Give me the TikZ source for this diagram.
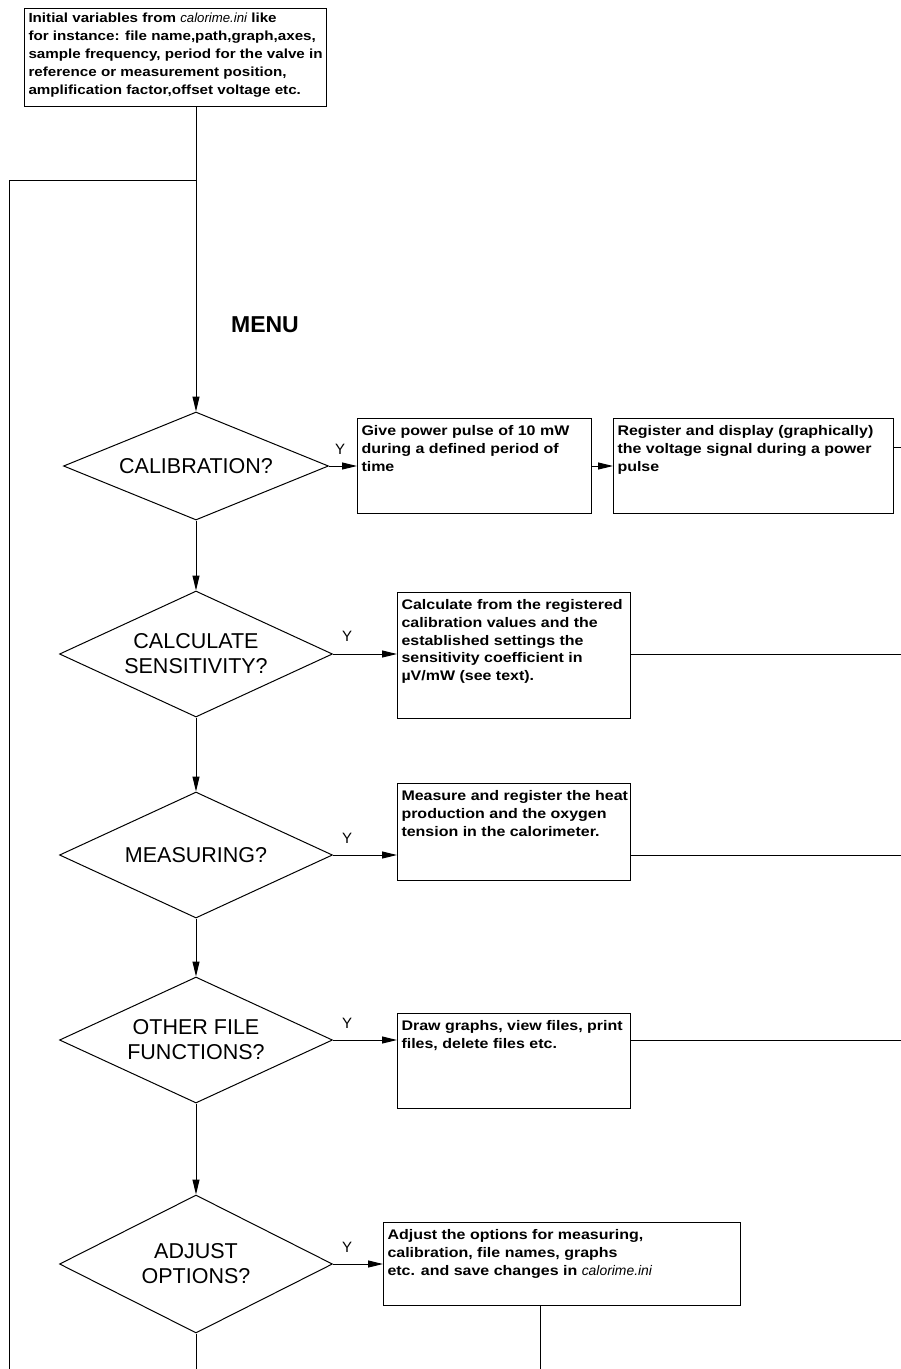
\documentclass[tikz,border=0pt]{standalone}
\usepackage{fontspec}
\setmainfont{Liberation Sans}
\newfontfamily\wboxfont[FakeStretch=1.15]{Liberation Sans}
\usetikzlibrary{shapes.geometric,arrows.meta}
\newcommand{\tbx}[3]{\parbox[t][#2][t]{#1}{\raggedright\hbadness=10000 #3}}
\begin{document}
\begin{tikzpicture}[x=1pt,y=-1pt,
  ln/.style={line width=1pt},
  arr/.style={line width=1pt,-{Triangle[length=15pt,width=7pt]}},
  dia/.style={diamond,draw,line width=1pt,inner sep=0pt,align=center,font=\fontsize{21.5}{25}\selectfont},
  tb/.style={draw,line width=1pt,inner xsep=4pt,inner ysep=7pt,anchor=north west,font=\wboxfont\bfseries\fontsize{13.9}{17.8}\selectfont},
  yl/.style={font=\fontsize{15}{16}\selectfont}]
\useasboundingbox (0,0) rectangle (901,1369);
% top box
\node[draw,line width=1pt,inner xsep=4pt,inner ysep=4pt,anchor=north west,font=\wboxfont\bfseries\fontsize{13.2}{18}\selectfont] (top) at (24,8)
  {\tbx{294pt}{90pt}{\mbox{Initial variables from {\normalfont\itshape calorime.ini} like}\\\mbox{for instance: file name,path,graph,axes,}\\\mbox{sample frequency, period for the valve in}\\\mbox{reference or measurement position,}\\\mbox{amplification factor,offset voltage etc.}}};
\node[font=\bfseries\fontsize{23}{26}\selectfont] (menu) at (265,325) {MENU};
% diamonds
\node[dia,aspect=2.45,minimum width=265pt,minimum height=108pt] (d1) at (196,466) {CALIBRATION?};
\node[dia,aspect=2.17,minimum width=273pt,minimum height=126pt] (d2) at (196,654) {CALCULATE\\SENSITIVITY?};
\node[dia,aspect=2.17,minimum width=273pt,minimum height=126pt] (d3) at (196,855) {MEASURING?};
\node[dia,aspect=2.17,minimum width=273pt,minimum height=126pt] (d4) at (196,1040) {OTHER FILE\\FUNCTIONS?};
\node[dia,aspect=1.98,minimum width=273pt,minimum height=138pt] (d5) at (196,1264) {ADJUST\\OPTIONS?};
% text boxes
\node[tb] (b1) at (357,418) {\tbx{226pt}{81pt}{Give power pulse of 10 mW\\during a defined period of\\time}};
\node[tb] (b2) at (613,418) {\tbx{272pt}{81pt}{\mbox{Register and display (graphically)}\\\mbox{the voltage signal during a power}\\pulse}};
\node[tb] (b3) at (397,592) {\tbx{225pt}{112pt}{\mbox{Calculate from the registered}\\calibration values and the\\established settings the\\sensitivity coefficient in\\µV/mW (see text).}};
\node[tb] (b4) at (397,783) {\tbx{225pt}{83pt}{\mbox{Measure and register the heat}\\production and the oxygen\\tension in the calorimeter.}};
\node[tb] (b5) at (397,1013) {\tbx{225pt}{81pt}{\mbox{Draw graphs, view files, print}\\files, delete files etc.}};
\node[tb] (b6) at (383,1222) {\tbx{349pt}{69pt}{Adjust the options for measuring,\\calibration, file names, graphs\\etc. and save changes in {\normalfont\itshape calorime.ini}}};
% Y labels
\node[yl] (y1) at (340,449) {Y};
\node[yl] (y2) at (347,636) {Y};
\node[yl] (y3) at (347,838) {Y};
\node[yl] (y4) at (347,1023) {Y};
\node[yl] (y5) at (347,1247) {Y};
% coordinates
\coordinate (lb) at (9,1369);
\coordinate (lt) at (9,180);
\coordinate (e2) at (901,447);
\coordinate (e3) at (901,654);
\coordinate (e4) at (901,855);
\coordinate (e5) at (901,1040);
\coordinate (bd) at (196,1369);
\coordinate (bb) at (540,1369);
% connectors
\draw[arr] (top.south -| d1.north) -- (d1.north);
\draw[ln] (lb) -- (lt) -- (lt -| d1.north);
\draw[arr] (d1.south) -- (d2.north);
\draw[arr] (d2.south) -- (d3.north);
\draw[arr] (d3.south) -- (d4.north);
\draw[arr] (d4.south) -- (d5.north);
\draw[ln] (d5.south) -- (bd);
\draw[arr] (d1.east) -- (b1.west |- d1.east);
\draw[arr] (b1.east |- d1.east) -- (b2.west |- d1.east);
\draw[arr] (d2.east) -- (b3.west |- d2.east);
\draw[arr] (d3.east) -- (b4.west |- d3.east);
\draw[arr] (d4.east) -- (b5.west |- d4.east);
\draw[arr] (d5.east) -- (b6.west |- d5.east);
\draw[ln] (b2.east |- e2) -- (e2);
\draw[ln] (b3.east |- e3) -- (e3);
\draw[ln] (b4.east |- e4) -- (e4);
\draw[ln] (b5.east |- e5) -- (e5);
\draw[ln] (b6.south -| bb) -- (bb);
\end{tikzpicture}
\end{document}
